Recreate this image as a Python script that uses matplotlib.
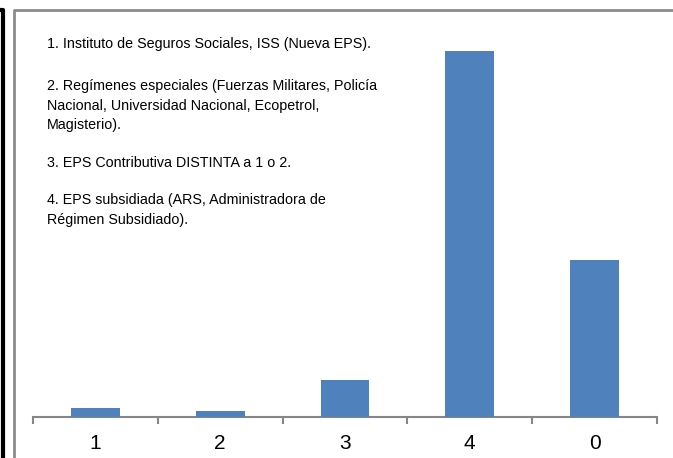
import matplotlib.pyplot as plt
from matplotlib.lines import Line2D
from matplotlib import font_manager

# categories and bar heights (no y axis shown, relative values)
categories = ["1", "2", "3", "4", "0"]
values = [9, 6, 37, 366, 157]

notes = [
    "1. Instituto de Seguros Sociales, ISS (Nueva EPS).",
    "2. Regímenes especiales (Fuerzas Militares, Policía",
    "Nacional, Universidad Nacional, Ecopetrol,",
    "Magisterio).",
    "3. EPS Contributiva DISTINTA a 1 o 2.",
    "4. EPS subsidiada (ARS, Administradora de",
    "Régimen Subsidiado).",
]
note_baselines = [48, 90, 110, 129, 167, 204, 224]

# narrow font if there is one, else plain Liberation Sans a bit smaller
names = {f.name for f in font_manager.fontManager.ttflist}
if "Liberation Sans Narrow" in names:
    base_font = "Liberation Sans Narrow"
    note_size = 11.8
    tick_size = 15
else:
    base_font = "Liberation Sans"
    note_size = 10.3
    tick_size = 15
plt.rcParams["font.family"] = [base_font, "DejaVu Sans"]

W, H = 673, 458
fig = plt.figure(figsize=(W / 100, H / 100), dpi=100)
ax = fig.add_axes([33 / W, 1 - 417 / H, (657 - 33) / W, (417 - 17) / H])

x = list(range(len(categories)))
ax.bar(x, values, width=0.39, color="#4F81BD", zorder=3)
ax.set_xlim(-0.5, len(categories) - 0.5)
ax.set_ylim(0, 400)

for s in ["left", "top", "right"]:
    ax.spines[s].set_visible(False)
ax.spines["bottom"].set_color("#868686")
ax.spines["bottom"].set_linewidth(1.5)
ax.set_yticks([])

ax.set_xticks([i - 0.5 for i in range(len(categories) + 1)])
ax.set_xticklabels([])
ax.set_xticks(x, minor=True)
ax.set_xticklabels(categories, minor=True, fontsize=tick_size)
ax.tick_params(axis="x", which="major", length=5, width=1.5, color="#868686", direction="out")
ax.tick_params(axis="x", which="minor", length=0, pad=12)

# frame lines around the chart
fig.add_artist(Line2D([0, 3 / W, 3 / W], [1 - 10 / H, 1 - 10 / H, 0], color="black", lw=3))
fig.add_artist(Line2D([13.5 / W, 13.5 / W, 1], [0, 1 - 10 / H, 1 - 10 / H], color="#8c8c8c", lw=2))

for txt, yb in zip(notes, note_baselines):
    fig.text(47 / W, 1 - yb / H, txt, fontsize=note_size, va="baseline", ha="left")

fig.savefig("out.png", dpi=100)
